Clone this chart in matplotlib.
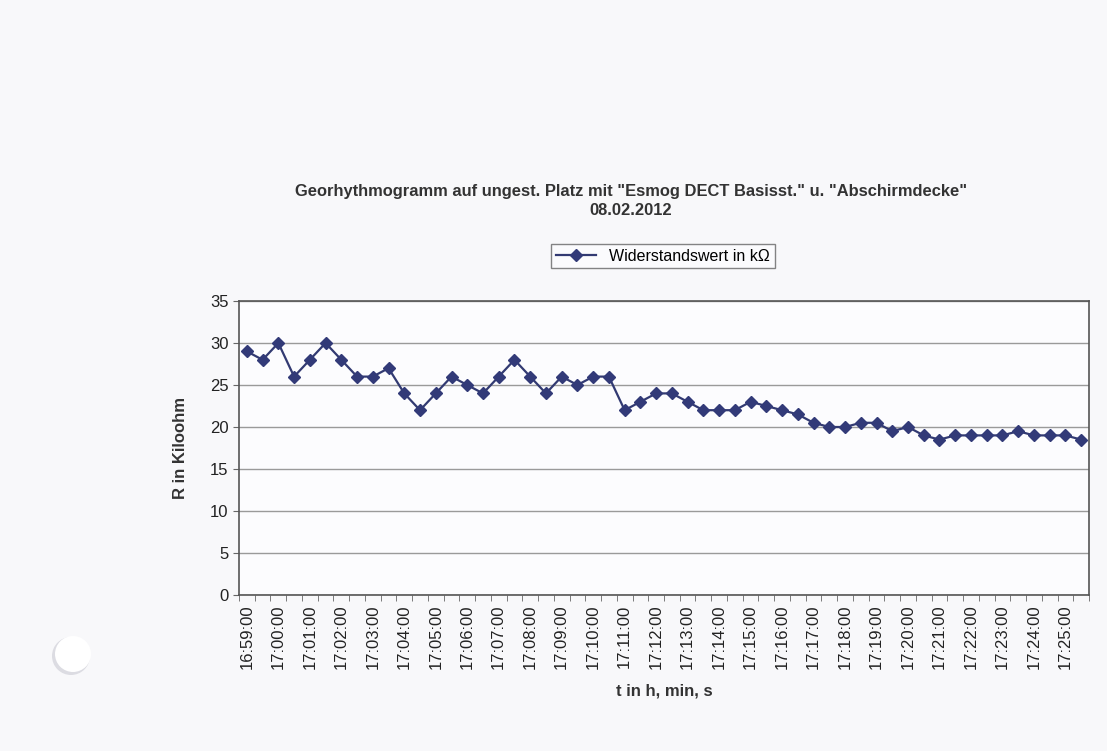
import matplotlib
matplotlib.use("Agg")
import matplotlib.pyplot as plt
from matplotlib.patches import Ellipse
import numpy as np

plt.rcParams['font.family'] = ['Liberation Sans', 'DejaVu Sans']

times = ["16:59:00", "16:59:30", "17:00:00", "17:00:30", "17:01:00", "17:01:30",
         "17:02:00", "17:02:30", "17:03:00", "17:03:30", "17:04:00", "17:04:30",
         "17:05:00", "17:05:30", "17:06:00", "17:06:30", "17:07:00", "17:07:30",
         "17:08:00", "17:08:30", "17:09:00", "17:09:30", "17:10:00", "17:10:30",
         "17:11:00", "17:11:30", "17:12:00", "17:12:30", "17:13:00", "17:13:30",
         "17:14:00", "17:14:30", "17:15:00", "17:15:30", "17:16:00", "17:16:30",
         "17:17:00", "17:17:30", "17:18:00", "17:18:30", "17:19:00", "17:19:30",
         "17:20:00", "17:20:30", "17:21:00", "17:21:30", "17:22:00", "17:22:30",
         "17:23:00", "17:23:30", "17:24:00", "17:24:30", "17:25:00", "17:25:30"]
values = [29, 28, 30, 26, 28, 30, 28, 26, 26, 27, 24, 22, 24, 26, 25, 24, 26, 28,
          26, 24, 26, 25, 26, 26, 22, 23, 24, 24, 23, 22, 22, 22, 23, 22.5, 22, 21.5,
          20.5, 20, 20, 20.5, 20.5, 19.5, 20, 19, 18.5, 19, 19, 19, 19, 19.5, 19, 19,
          19, 18.5]
yticks = [0, 5, 10, 15, 20, 25, 30, 35]

title = 'Georhythmogramm auf ungest. Platz mit "Esmog DECT Basisst." u. "Abschirmdecke"\n08.02.2012'
series_name = "Widerstandswert in kΩ"

fig = plt.figure(figsize=(11.07, 7.51), dpi=100)
fig.patch.set_facecolor('#f8f8fa')
ax = fig.add_axes([239/1107, 1-595/751, (1089-239)/1107, (595-301)/751])
ax.set_facecolor('#fcfcfe')

x = np.arange(len(values))
line, = ax.plot(x, values, color='#323a72', lw=1.6, marker='D', markersize=6.5,
                markerfacecolor='#323a78', markeredgecolor='#323a78', zorder=3)

ax.set_xlim(-0.5, len(values) - 0.5)
ax.set_ylim(0, 35)
ax.set_yticks(yticks)
ax.yaxis.grid(True, color='#9a9a9a', lw=1.0)
ax.set_axisbelow(True)

ax.set_xticks(x[::2])
ax.set_xticklabels(times[::2], rotation=90, fontsize=12, color='#222222')
ax.set_xticks(np.arange(-0.5, len(values), 1), minor=True)
ax.tick_params(axis='x', which='major', length=0, pad=7)
ax.tick_params(axis='x', which='minor', length=4, color='#666666')
ax.tick_params(axis='y', labelsize=12, length=4, color='#666666', labelcolor='#222222')

for s in ax.spines.values():
    s.set_color('#555555')
    s.set_linewidth(1.2)

ax.set_ylabel("R in Kiloohm", fontsize=12, fontweight='bold', color='#333333', labelpad=16)
ax.set_xlabel("t in h, min, s", fontsize=12, fontweight='bold', color='#333333', labelpad=10)

fig.text(631/1107, 1-201/751, title, ha='center', va='center', fontsize=11.9,
         fontweight='bold', color='#333333', linespacing=1.35)

leg = fig.legend([line], [series_name], loc='center', bbox_to_anchor=(663/1107, 1-256/751),
                 fontsize=11.5, frameon=True, fancybox=False, handlelength=2.5,
                 borderpad=0.3, edgecolor='#666666', markerscale=0.9)
leg.get_frame().set_linewidth(1.0)
leg.get_frame().set_facecolor('#fcfcfe')

# punch hole shadow of the scanned page
fig.patches.append(Ellipse((71/1107, 1-656/751), 38/1107, 38/751, transform=fig.transFigure,
                           facecolor='#dcdce2', edgecolor='none'))
fig.patches.append(Ellipse((73/1107, 1-654/751), 36/1107, 36/751, transform=fig.transFigure,
                           facecolor='#ffffff', edgecolor='none'))

fig.savefig("out.png", dpi=100, facecolor=fig.get_facecolor())
